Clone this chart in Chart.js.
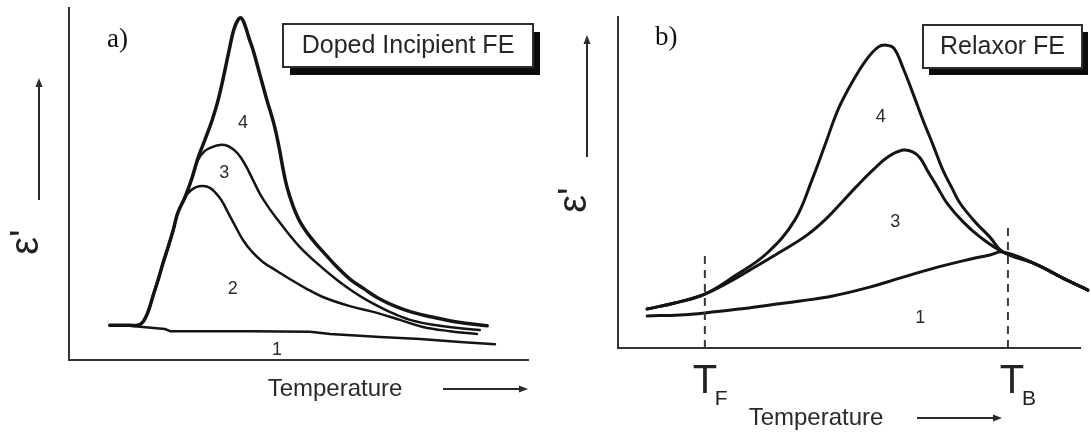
<!DOCTYPE html>
<html>
<head>
<meta charset="utf-8">
<script src="https://cdn.jsdelivr.net/npm/chart.js@4.4.1/dist/chart.umd.min.js"></script>
<style>
  html, body { margin: 0; padding: 0; background: #fff; }
  #wrap { position: relative; width: 1091px; height: 432px; overflow: hidden; }
  .panel { position: absolute; top: 0; height: 432px; }
  #panelA { left: 0; width: 545px; }
  #panelB { left: 545px; width: 546px; }
</style>
</head>
<body>
<div id="wrap">
  <div class="panel" id="panelA"><canvas id="chartA" width="545" height="432"></canvas></div>
  <div class="panel" id="panelB"><canvas id="chartB" width="546" height="432"></canvas></div>
</div>
<script>
// ---------- a) Doped incipient ferroelectric: permittivity vs temperature (arb. units) ----------
const a1T = [8.9, 12.2, 16.1, 20.9, 22.0, 28.5, 39.4, 52.5, 56.9, 67.8, 76.5, 85.2, 92.8];
const a1E = [9.9, 9.9, 9.4, 8.8, 8.2, 8.2, 8.2, 8.0, 7.4, 6.5, 6.0, 5.1, 4.5];

const a2T = [8.9, 12.2, 15.0, 16.1, 17.2, 18.3, 19.4, 20.5, 21.6, 22.7, 23.7, 25.3, 26.4, 27.7, 29.2, 30.7, 32.0,
             33.3, 34.6, 36.2, 37.9, 39.9, 42.3, 45.3, 48.1, 51.4, 55.3, 61.2, 67.1, 72.1, 77.1, 83.0, 88.9];
const a2E = [9.9, 9.9, 9.9, 10.8, 13.6, 18.2, 22.7, 27.6, 32.1, 36.9, 41.8, 46.3, 48.0, 49.1, 49.4, 48.9, 47.4,
             45.2, 42.0, 38.1, 34.1, 30.7, 27.8, 25.3, 23.0, 20.5, 17.9, 15.3, 13.4, 11.4, 9.4, 8.2, 7.4];

const a3T = [8.9, 12.2, 15.0, 16.1, 17.2, 18.3, 19.4, 20.5, 21.6, 22.7, 23.7, 25.3, 26.8, 28.1, 29.6, 31.2, 32.9, 34.6,
             36.2, 37.5, 38.8, 40.1, 41.6, 43.4, 45.3, 47.7, 50.3, 54.2, 58.4, 61.7, 64.9, 69.5, 74.3, 80.8, 89.5];
const a3E = [9.9, 9.9, 9.9, 10.8, 13.6, 18.2, 22.7, 27.6, 32.1, 36.9, 41.8, 46.3, 51.7, 56.8, 59.4, 60.5, 61.1, 60.8,
             59.4, 57.4, 54.5, 51.1, 47.2, 43.5, 40.1, 36.1, 32.1, 27.3, 22.7, 19.6, 17.0, 13.9, 11.4, 9.7, 8.5];

const a4T = [8.9, 12.2, 15.0, 16.1, 17.2, 18.3, 19.4, 20.5, 21.6, 22.7, 23.7, 25.3, 26.8, 28.1, 29.6, 31.2, 32.5,
             33.6, 34.9, 35.9, 36.8, 37.5, 38.3, 39.2, 40.1, 41.6, 43.1, 44.7, 45.8, 46.6, 47.5, 48.8, 50.5, 52.9,
             55.8, 58.4, 61.2, 64.3, 67.3, 71.0, 74.7, 79.1, 84.5, 91.1];
const a4E = [9.9, 9.9, 9.9, 10.8, 13.6, 18.2, 22.7, 27.6, 32.1, 36.9, 41.8, 46.3, 51.7, 57.4, 62.5, 68.2, 73.9,
             80.1, 88.1, 93.8, 96.6, 97.2, 95.2, 91.5, 88.1, 81.0, 73.9, 66.8, 60.2, 54.5, 49.1, 43.8, 38.9, 34.4,
             30.1, 26.4, 23.0, 20.2, 17.6, 15.3, 13.6, 12.2, 10.8, 9.7];

const aCurveNames = ['1', '2', '3', '4'];
const aNameT = [45.3, 35.7, 33.8, 37.9];
const aNameE = [2.8, 20.2, 53.1, 67.3];

// ---------- b) Relaxor ferroelectric ----------
const b1T = [6.3, 13.4, 18.8, 26.4, 32.9, 39.4, 46.5, 54.5, 61.0, 68.6, 75.5, 80.5, 83.3, 89.8, 97.2, 101.7];
const b1E = [9.7, 10.0, 10.6, 11.8, 13.0, 14.2, 15.7, 18.4, 21.1, 24.2, 26.6, 28.1, 29.0, 25.7, 20.5, 17.5];

const b3T = [6.3, 12.3, 18.8, 23.6, 28.6, 35.1, 40.9, 44.8, 48.1, 51.7, 55.2, 58.4, 61.7, 63.9, 65.4, 66.9,
             69.0, 71.2, 74.7, 78.4, 83.3, 89.8, 97.2, 101.7];
const b3E = [11.8, 13.6, 16.3, 19.6, 23.6, 29.0, 34.1, 38.7, 43.5, 48.9, 53.8, 57.7, 59.8, 59.2, 57.4, 53.8,
             48.9, 43.8, 38.1, 33.5, 29.0, 25.7, 20.5, 17.5];

const b4T = [6.3, 12.3, 18.8, 25.3, 32.3, 38.3, 42.0, 44.8, 47.6, 50.6, 53.7, 56.3, 58.0, 59.7, 61.7, 63.9,
             66.0, 68.2, 70.3, 72.3, 74.0, 77.3, 80.5, 83.3, 89.8, 97.2, 101.7];
const b4E = [11.8, 13.6, 16.3, 21.8, 28.7, 38.7, 50.8, 61.3, 71.9, 80.1, 87.0, 90.9, 91.5, 90.6, 84.6, 76.7,
             68.9, 61.3, 53.8, 48.3, 43.8, 38.1, 33.5, 29.0, 25.7, 20.5, 17.5];

const bCurveNames = ['1', '3', '4'];
const bNameT = [65.4, 60.0, 56.9];
const bNameE = [9.1, 38.1, 69.8];

// characteristic temperatures T_F and T_B, with the height of their guide lines
const markNames = ['F', 'B'];
const markT = [18.8, 84.4];
const markTop = [28.7, 37.2];

// ---------- helpers ----------
const pts = (ts, es) => ts.map((t, i) => ({ x: t, y: es[i] }));
const INK = '#141414';

// mode: 'straight' | 'spline'
function curve(ts, es, width, mode) {
  return {
    data: pts(ts, es),
    borderColor: INK,
    borderWidth: width,
    pointRadius: 0,
    fill: false,
    clip: false,
    tension: mode === 'straight' ? 0 : 0.4,
    borderCapStyle: 'round',
    borderJoinStyle: 'round'
  };
}

function guide(i) {
  return {
    data: [{ x: markT[i], y: 0 }, { x: markT[i], y: markTop[i] }],
    borderColor: '#3a3a3a',
    borderWidth: 2,
    borderDash: [8, 6],
    pointRadius: 0,
    tension: 0
  };
}

function arrow(ctx, x1, y1, x2, y2) {
  const ang = Math.atan2(y2 - y1, x2 - x1);
  const len = 9, half = 3.5;
  ctx.beginPath();
  ctx.moveTo(x1, y1);
  ctx.lineTo(x2 - Math.cos(ang) * len * 0.6, y2 - Math.sin(ang) * len * 0.6);
  ctx.stroke();
  ctx.beginPath();
  ctx.moveTo(x2, y2);
  ctx.lineTo(x2 - Math.cos(ang) * len - Math.sin(ang) * half, y2 - Math.sin(ang) * len + Math.cos(ang) * half);
  ctx.lineTo(x2 - Math.cos(ang) * len + Math.sin(ang) * half, y2 - Math.sin(ang) * len - Math.cos(ang) * half);
  ctx.closePath();
  ctx.fill();
}

// Draws the panel tag, the framed title, curve numbers, axis captions and arrows
const sketchDecor = {
  id: 'sketchDecor',
  afterDatasetsDraw(chart, args, o) {
    const ctx = chart.ctx;
    const A = chart.chartArea;
    const xs = chart.scales.x, ys = chart.scales.y;
    ctx.save();

    // panel tag
    ctx.fillStyle = '#111';
    ctx.font = '27px "Liberation Serif", "Times New Roman", serif';
    ctx.textAlign = 'left';
    ctx.textBaseline = 'alphabetic';
    ctx.fillText(o.tag, A.left + o.tagDx, A.top + o.tagDy);

    // framed title with drop shadow
    const b = o.box;
    ctx.fillStyle = '#0c0c0c';
    ctx.fillRect(b.x + b.sx, b.y + b.sy, b.w, b.h);
    ctx.fillStyle = '#fff';
    ctx.fillRect(b.x, b.y, b.w, b.h);
    ctx.strokeStyle = '#2e2e2e';
    ctx.lineWidth = 2;
    ctx.strokeRect(b.x, b.y, b.w, b.h);
    ctx.fillStyle = '#262626';
    ctx.font = '25px "Liberation Sans", Arial, sans-serif';
    ctx.textAlign = 'center';
    ctx.textBaseline = 'middle';
    ctx.fillText(b.text, b.x + b.w / 2, b.y + b.h / 2 + 1);

    // curve numbers
    ctx.fillStyle = '#2a2a2a';
    ctx.font = '18px "Liberation Sans", Arial, sans-serif';
    o.names.forEach((n, i) => {
      ctx.fillText(n, xs.getPixelForValue(o.nameT[i]), ys.getPixelForValue(o.nameE[i]));
    });

    // T_F / T_B captions under the axis
    if (o.marks) {
      markNames.forEach((m, i) => {
        const x = xs.getPixelForValue(markT[i]) + o.markDx[i];
        ctx.fillStyle = '#222';
        ctx.textAlign = 'center';
        ctx.textBaseline = 'alphabetic';
        ctx.font = '40px "Liberation Sans", Arial, sans-serif';
        ctx.fillText('T', x, A.bottom + 45);
        ctx.textAlign = 'left';
        ctx.font = '21px "Liberation Sans", Arial, sans-serif';
        ctx.fillText(m, x + 10, A.bottom + 57);
      });
    }

    // y caption, rotated
    ctx.save();
    ctx.translate(A.left + o.eps.dx, A.top + o.eps.dy);
    ctx.rotate(-Math.PI / 2);
    ctx.fillStyle = '#222';
    ctx.font = '40px "Liberation Sans", Arial, sans-serif';
    ctx.textAlign = 'center';
    ctx.textBaseline = 'middle';
    ctx.fillText("\u03B5'", 0, 0);
    ctx.restore();

    // x caption
    ctx.fillStyle = '#2a2a2a';
    ctx.font = '24px "Liberation Sans", Arial, sans-serif';
    ctx.textAlign = 'center';
    ctx.textBaseline = 'middle';
    ctx.fillText('Temperature', A.left + o.temp.dx, A.bottom + o.temp.dy);

    // arrows
    ctx.strokeStyle = '#2a2a2a';
    ctx.fillStyle = '#2a2a2a';
    ctx.lineWidth = 2;
    const ua = o.upArrow, ra = o.rightArrow;
    arrow(ctx, A.left + ua.dx, A.top + ua.y1, A.left + ua.dx, A.top + ua.y2);
    arrow(ctx, A.left + ra.x1, A.bottom + ra.dy, A.left + ra.x2, A.bottom + ra.dy);

    ctx.restore();
  }
};

function axisOpts() {
  const common = {
    type: 'linear',
    min: 0,
    max: 100,
    ticks: { display: false },
    grid: { display: false, drawTicks: false, tickLength: 0 },
    border: { display: true, color: '#333', width: 2 }
  };
  return { x: { ...common, position: 'bottom' }, y: { ...common, position: 'left' } };
}

function baseOptions(padding, decor) {
  return {
    responsive: false,
    animation: false,
    devicePixelRatio: 1,
    layout: { padding },
    scales: axisOpts(),
    plugins: { legend: { display: false }, tooltip: { enabled: false }, sketchDecor: decor }
  };
}

new Chart(document.getElementById('chartA'), {
  type: 'line',
  data: {
    datasets: [
      curve(a1T, a1E, 2.5, 'straight'),
      curve(a2T, a2E, 2.5, 'spline'),
      curve(a3T, a3E, 2.5, 'spline'),
      curve(a4T, a4E, 3.5, 'spline')
    ]
  },
  options: baseOptions({ left: 69, top: 8, right: 17, bottom: 72 }, {
    tag: 'a)', tagDx: 38, tagDy: 39,
    box: { x: 283, y: 24, w: 250, h: 43, sx: 7, sy: 8, text: 'Doped Incipient FE' },
    names: aCurveNames, nameT: aNameT, nameE: aNameE,
    marks: false,
    eps: { dx: -42, dy: 234 },
    temp: { dx: 266, dy: 29 },
    upArrow: { dx: -30, y1: 192, y2: 70 },
    rightArrow: { x1: 374, x2: 459, dy: 29 }
  }),
  plugins: [sketchDecor]
});

new Chart(document.getElementById('chartB'), {
  type: 'line',
  data: {
    datasets: [
      guide(0),
      guide(1),
      curve(b1T, b1E, 3, 'spline'),
      curve(b3T, b3E, 3, 'spline'),
      curve(b4T, b4E, 3, 'spline')
    ]
  },
  options: baseOptions({ left: 73, top: 17, right: 11, bottom: 84 }, {
    tag: 'b)', tagDx: 37, tagDy: 28,
    box: { x: 378, y: 25, w: 159, h: 43, sx: 6, sy: 7, text: 'Relaxor FE' },
    names: bCurveNames, nameT: bNameT, nameE: bNameE,
    marks: true, markDx: [0, 4],
    eps: { dx: -43, dy: 183 },
    temp: { dx: 198, dy: 70 },
    upArrow: { dx: -31, y1: 140, y2: 18 },
    rightArrow: { x1: 299, x2: 384, dy: 70 }
  }),
  plugins: [sketchDecor]
});
</script>
</body>
</html>
